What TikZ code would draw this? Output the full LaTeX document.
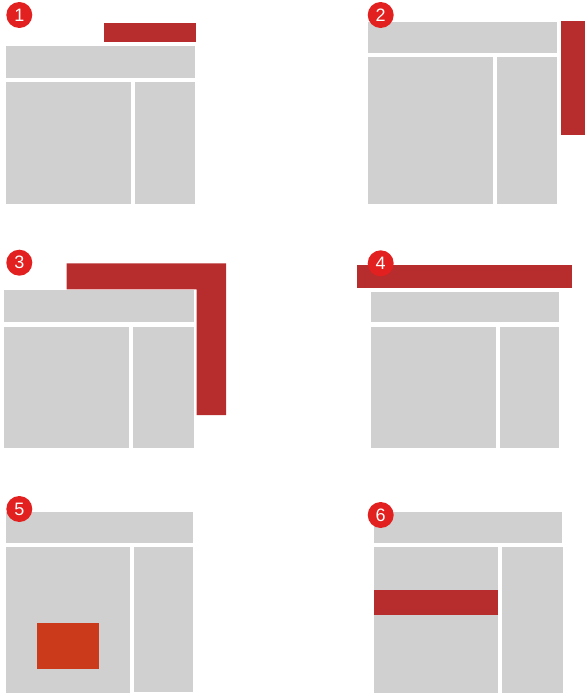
\documentclass[tikz,border=0pt]{standalone}
\usepackage{fontspec}
\setmainfont{Liberation Sans}
\definecolor{panelgray}{HTML}{D0D0D0}
\definecolor{barred}{HTML}{B72C2C}
\definecolor{badgered}{HTML}{E2201F}
\definecolor{boxorange}{HTML}{CB3B1B}
\begin{document}
\begin{tikzpicture}[x=1pt, y=-1pt,
    panel/.style={fill=panelgray},
    bar/.style={fill=barred},
    badge/.style={circle, fill=badgered, text=white, inner sep=0pt,
        minimum size=26pt, font=\fontsize{18}{18}\selectfont}]
    \useasboundingbox (0,0) rectangle (585,693);

    % layout 1
    \fill[bar] (104,23.3) rectangle (195.7,42);
    \fill[panel] (6,45.7) rectangle (195,78.3);
    \fill[panel] (6,82.3) rectangle (130.7,204);
    \fill[panel] (135,82.3) rectangle (195,204);
    \node[badge] (n1) at (19.3,15) {1};

    % layout 2
    \fill[panel] (367.7,22.3) rectangle (557.3,52.7);
    \fill[panel] (367.7,57.3) rectangle (493.3,204);
    \fill[panel] (497.3,57.3) rectangle (557.3,204);
    \fill[bar] (560.7,21.3) rectangle (585,135.3);
    \node[badge] (n2) at (380.7,15) {2};

    % layout 3
    \fill[bar] (66.7,263.3) -- (226,263.3) -- (226,415) -- (196.7,415)
        -- (196.7,289.3) -- (66.7,289.3) -- cycle;
    \fill[panel] (4,290) rectangle (194,321.7);
    \fill[panel] (4,326.7) rectangle (129.3,448.3);
    \fill[panel] (133.3,326.7) rectangle (194,448.3);
    \node[badge] (n3) at (19.3,262.7) {3};

    % layout 4
    \fill[bar] (356.7,265) rectangle (572.3,288.3);
    \fill[panel] (370.7,291.7) rectangle (559.3,322.3);
    \fill[panel] (370.7,327.3) rectangle (495.7,448.3);
    \fill[panel] (500,327.3) rectangle (559.3,448.3);
    \node[badge] (n4) at (380.7,263.3) {4};

    % layout 5
    \fill[panel] (6,512.3) rectangle (192.7,543.3);
    \fill[panel] (6,547.3) rectangle (130,693);
    \fill[panel] (134,547.3) rectangle (192.7,692.3);
    \fill[boxorange] (36.7,622.7) rectangle (99,669);
    \node[badge] (n5) at (19.3,509) {5};

    % layout 6
    \fill[panel] (374,512.3) rectangle (561.7,543.3);
    \fill[panel] (374,547.3) rectangle (498.3,693);
    \fill[panel] (501.7,547.3) rectangle (562.7,693);
    \fill[bar] (374,590) rectangle (498.3,614.7);
    \node[badge] (n6) at (380.7,515) {6};
\end{tikzpicture}
\end{document}
